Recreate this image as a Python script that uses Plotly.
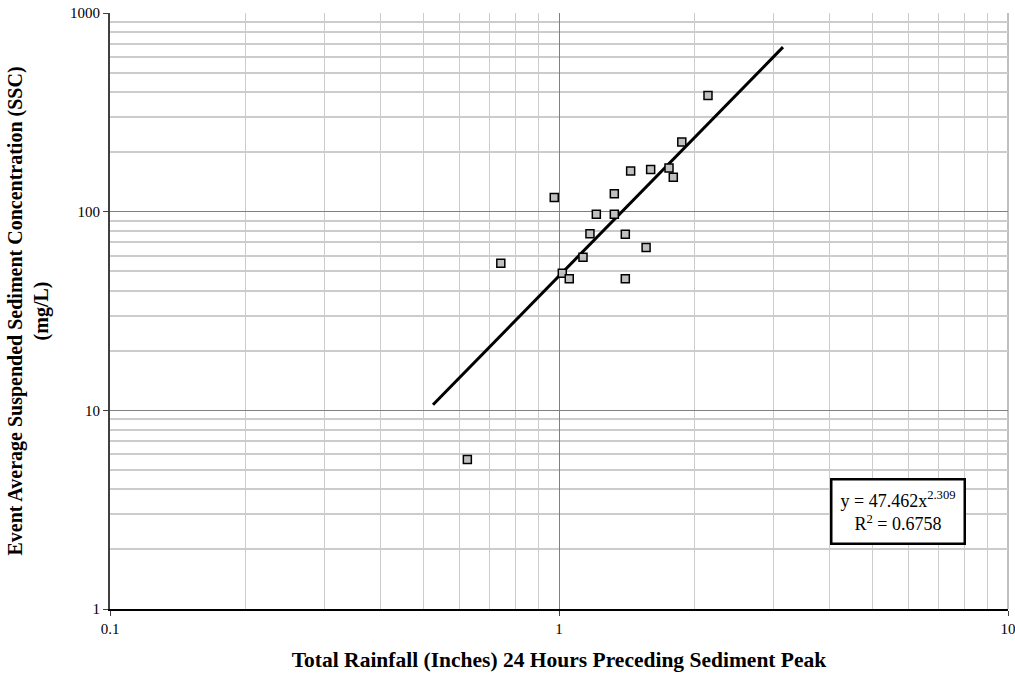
import plotly.graph_objects as go

# Storm events: 24-hour rainfall (in) and event-average SSC (mg/L)
rainfall_in = [2.147, 1.877, 1.444, 1.600, 1.758, 1.797, 0.976, 1.328, 1.211, 1.328,
               1.172, 1.405, 1.563, 1.131, 0.742, 1.017, 1.054, 1.405, 0.625]
ssc_mgl = [384, 224, 160, 163, 166, 149, 118, 123, 97, 97,
           77.5, 77, 66, 59, 55, 49, 46, 46, 5.65]

# Power-law trendline y = a * x^b
coef_a = 47.462
coef_b = 2.309
r_squared = 0.6758
trend_x = [0.524, 3.154]

x_major = [0.1, 1, 10]
x_labels = ["0.1", "1", "10"]
y_major = [1, 10, 100, 1000]
y_labels = ["1", "10", "100", "1000"]
minor_mult = [2, 3, 4, 5, 6, 7, 8, 9]

x_minor = [m * d for d in (0.1, 1) for m in minor_mult]
y_minor = [m * d for d in (1, 10, 100) for m in minor_mult]

trend_y = [coef_a * x ** coef_b for x in trend_x]

serif = "Liberation Serif, Times New Roman, serif"

fig = go.Figure()
fig.add_trace(go.Scatter(
    x=trend_x, y=trend_y, mode="lines",
    line=dict(color="black", width=3), showlegend=False, hoverinfo="skip",
))
fig.add_trace(go.Scatter(
    x=rainfall_in, y=ssc_mgl, mode="markers",
    marker=dict(symbol="square", size=8, color="#c0c0c0",
                line=dict(color="black", width=1.5)),
    showlegend=False,
))

# right-hand border of the plot area (major grid line at x = 10)
fig.add_shape(type="line", xref="paper", yref="paper", x0=1, x1=1, y0=0, y1=1,
              line=dict(color="#808080", width=1), layer="below")

fig.add_annotation(
    x=0.8775, y=0.1644, xref="paper", yref="paper", xanchor="center", yanchor="middle",
    text=f"y = {coef_a}x<sup>{coef_b}</sup><br>R<sup>2</sup> = {r_squared}",
    showarrow=False, align="center",
    font=dict(family=serif, size=18, color="black"),
    bgcolor="white", bordercolor="black", borderwidth=2.5, borderpad=8,
)

axis_common = dict(
    type="log",
    showgrid=True, gridcolor="#808080", gridwidth=1,
    ticks="outside", ticklen=5, tickcolor="#404040",
    tickfont=dict(family=serif, size=15, color="black"),
    zeroline=False, showline=True, automargin=False,
    ticklabeloverflow="allow",
)

fig.update_xaxes(
    **axis_common,
    range=[-1, 1], tickvals=x_major, ticktext=x_labels,
    linecolor="black", linewidth=1.5,
    minor=dict(tickvals=x_minor, showgrid=True, gridcolor="#cccccc", gridwidth=1, ticks=""),
    title=dict(text="<b>Total Rainfall (Inches) 24 Hours Preceding Sediment Peak</b>",
               font=dict(family=serif, size=21.5, color="black"), standoff=16),
)
fig.update_yaxes(
    **axis_common,
    range=[0, 3], tickvals=y_major, ticktext=y_labels,
    linecolor="#404040", linewidth=2,
    minor=dict(tickvals=y_minor, showgrid=True, gridcolor="#cccccc", gridwidth=1.5, ticks=""),
    title=dict(text="<b>Event Average Suspended Sediment Concentration (SSC)<br>(mg/L)</b>",
               font=dict(family=serif, size=20, color="black"), standoff=16),
)

fig.update_layout(
    width=1015, height=679,
    margin=dict(l=110, r=7, t=13, b=70),
    plot_bgcolor="white", paper_bgcolor="white",
)

fig.write_html("out.html")
